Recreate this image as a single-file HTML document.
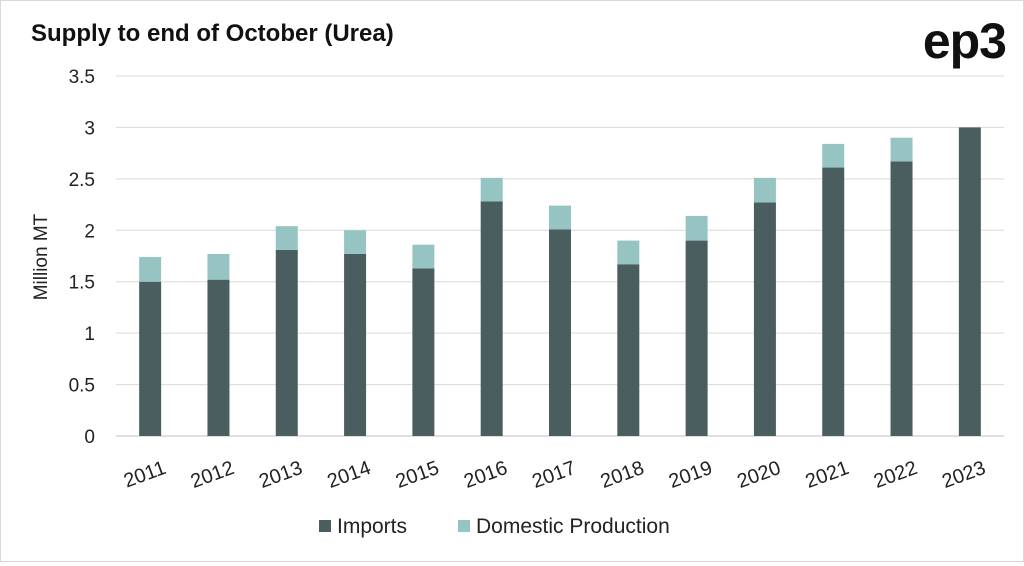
<!DOCTYPE html>
<html><head><meta charset="utf-8"><style>
body{margin:0;background:#fff;font-family:"Liberation Sans",sans-serif}
#wrap{position:relative;width:1022px;height:560px;border:1px solid #d9d9d9;background:#fff}
</style></head><body>
<div id="wrap">
<svg id="chart" width="1022" height="560">
<text x="30" y="40" font-size="24" font-weight="bold" fill="#111">Supply to end of October (Urea)</text>
<text x="1005" y="57" font-size="50" font-weight="bold" fill="#111" text-anchor="end" letter-spacing="-1">ep3</text>
<text transform="translate(46,256) rotate(-90)" font-size="19" fill="#222" text-anchor="middle">Million MT</text>
<g id="grid"></g><g id="bars"></g><g id="xl"></g>
<g>
<rect x="318" y="519" width="12" height="12" fill="#4a5e5f"/>
<text x="336" y="532" font-size="21" fill="#222">Imports</text>
<rect x="457" y="519" width="12" height="12" fill="#96c4c2"/>
<text x="475" y="532" font-size="21" fill="#222">Domestic Production</text>
</g>
</svg></div>
<script>
const years=["2011","2012","2013","2014","2015","2016","2017","2018","2019","2020","2021","2022","2023"];
const imports=[1.50,1.52,1.81,1.77,1.63,2.28,2.01,1.67,1.90,2.27,2.61,2.67,3.00];
const domestic=[0.24,0.25,0.23,0.23,0.23,0.23,0.23,0.23,0.24,0.24,0.23,0.23,0.00];
const yTicks=[0,0.5,1,1.5,2,2.5,3,3.5];
const NS="http://www.w3.org/2000/svg";
const x0=115,x1=1003,y0=435,yTop=75,maxV=3.5;
const y=v=>y0-(y0-yTop)*v/maxV;
const band=(x1-x0)/years.length;
const xc=i=>x0+band*(i+0.5);
const bw=22;
function mk(t,a){const e=document.createElementNS(NS,t);for(const k in a)e.setAttribute(k,a[k]);return e;}
const g=document.getElementById('grid');
yTicks.forEach(t=>{
 const l=mk('line',{x1:x0,x2:x1,y1:y(t),y2:y(t),stroke:t===0?'#bfbfbf':'#d9d9d9','stroke-width':1});
 
 
 g.appendChild(l);
 const tx=mk('text',{x:94,y:y(t)+7,'font-size':19,fill:'#222','text-anchor':'end'});
 tx.textContent=String(t);
 
 
 g.appendChild(tx);
});
const b=document.getElementById('bars'),xl=document.getElementById('xl');
years.forEach((yr,i)=>{
 const r=mk('rect',{x:xc(i)-bw/2,y:y(imports[i]),width:bw,height:y0-y(imports[i]),fill:'#4a5e5f'});
 
 
 b.appendChild(r);
 const tot=imports[i]+domestic[i];
 const d=mk('rect',{x:xc(i)-bw/2,y:y(tot),width:bw,height:y(imports[i])-y(tot),fill:'#96c4c2'});
 
 
 b.appendChild(d);
 const t=mk('text',{transform:`translate(${xc(i)+17},472) rotate(-20)`,'font-size':20,fill:'#222','text-anchor':'end'});
 t.textContent=yr;
 
 
 xl.appendChild(t);
});
</script></body></html>
